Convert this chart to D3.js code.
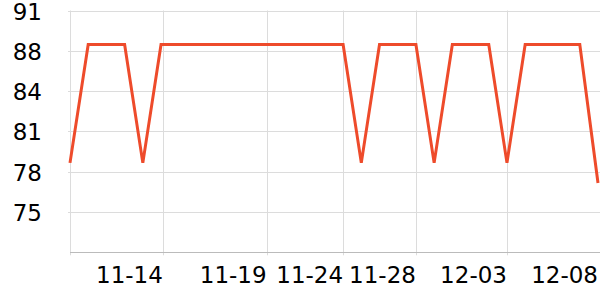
<!DOCTYPE html>
<html>
<head>
<meta charset="utf-8">
<script src="https://d3js.org/d3.v7.min.js"></script>
<style>
  html,body{margin:0;background:#fff}
  svg{display:block;font-family:"DejaVu Sans",sans-serif}
  .grid line{stroke:#dcdcdc;stroke-width:1}
  .lbl{font-size:23px;fill:#000}
</style>
</head>
<body>
<svg id="chart" width="600" height="300"></svg>
<script>
// series: one value per sample, in order
const values=[78.7,88.1,88.1,88.1,78.7,88.1,88.1,88.1,88.1,88.1,
              88.1,88.1,88.1,88.1,88.1,88.1,78.7,88.1,88.1,88.1,
              78.7,88.1,88.1,88.1,78.7,88.1,88.1,88.1,88.1,77.1];
// x ticks, in sample-index units
const xTickAt=[0,5.1,10.8,15,19,24];
const xLabelAt=[5.1,10.8,15,19,24,29];
const xLabels=['11-14','11-19','11-24','11-28','12-03','12-08'];
// y ticks
const yTicks=[74.8,78,81.2,84.4,87.6,90.8];
const yDomain=[71.6,90.8];

const svg=d3.select('#chart');
const m={l:70,r:2,t:10.5,b:47.7};
const W=600,H=300;
const x=d3.scaleLinear().domain([0,values.length-1]).range([m.l,W-m.r]);
const y=d3.scaleLinear().domain(yDomain).range([H-m.b,m.t]);

const g=svg.append('g').attr('class','grid');
g.selectAll('.h').data(yTicks).enter().append('line')
  .attr('x1',m.l-2).attr('x2',W).attr('y1',d=>Math.round(y(d))+.5).attr('y2',d=>Math.round(y(d))+.5);
g.selectAll('.v').data(xTickAt).enter().append('line')
  .attr('x1',d=>Math.round(x(d))+.5).attr('x2',d=>Math.round(x(d))+.5)
  .attr('y1',m.t).attr('y2',H-m.b+3);

// x axis line
svg.append('line').attr('x1',m.l).attr('x2',W)
  .attr('y1',Math.round(y(yDomain[0]))+.5).attr('y2',Math.round(y(yDomain[0]))+.5)
  .attr('stroke','#bbb').attr('stroke-width',1);

svg.selectAll('.yl').data(yTicks).enter().append('text').attr('class','lbl')
  .attr('x',42).attr('y',d=>y(d)+1).attr('text-anchor','end').attr('dominant-baseline','central')
  .text(d=>Math.round(d));

svg.selectAll('.xl').data(xLabelAt).enter().append('text').attr('class','lbl')
  .attr('x',d=>x(d)).attr('y',283).attr('text-anchor','end')
  .text((d,i)=>xLabels[i]);

const line=d3.line().x((d,i)=>x(i)).y(d=>y(d));
svg.append('path').datum(values).attr('d',line)
  .attr('fill','none').attr('stroke','#ee4b2b').attr('stroke-width',3).attr('stroke-linejoin','miter');
</script>
</body>
</html>
